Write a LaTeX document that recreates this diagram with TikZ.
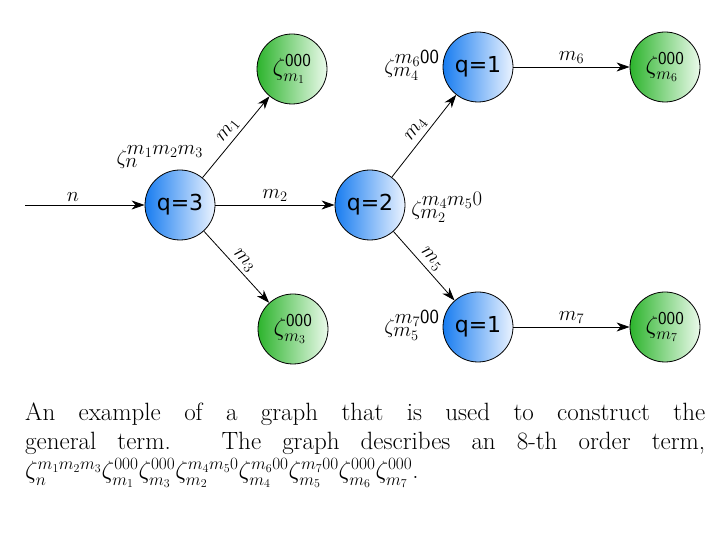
\documentclass[tikz,border=0pt]{standalone}
\usepackage{fontspec}
\newfontfamily\qfont{DejaVu Sans}
\usetikzlibrary{arrows.meta}
\DeclareMathSizes{22}{22}{20}{14}
\definecolor{qblue}{RGB}{25,125,240}
\definecolor{qpale}{RGB}{235,243,255}
\definecolor{zgreen}{RGB}{45,180,45}
\definecolor{zpale}{RGB}{235,250,235}
\begin{document}
\begin{tikzpicture}[x=1pt,y=1pt,
  qnode/.style={circle,draw,line width=0.8pt,minimum size=70pt,inner sep=0pt,left color=qblue,right color=qpale,font=\qfont\fontsize{22}{25}\selectfont},
  znode/.style={circle,draw,line width=0.8pt,minimum size=70pt,inner sep=0pt,left color=zgreen,right color=zpale,font=\fontsize{26}{30}\selectfont},
  edge/.style={-{Stealth[length=13pt,width=9pt,inset=4pt]},line width=0.8pt},
  lbl/.style={font=\fontsize{21}{24}\selectfont},
  zlbl/.style={font=\fontsize{22}{26}\selectfont,inner sep=0pt}]
\useasboundingbox (0,0) rectangle (720,540);
\node[qnode] (q3) at (180,335) {q=3};
\node[qnode] (q2) at (370,335) {q=2};
\node[qnode] (q1a) at (478,473) {q=1};
\node[qnode] (q1b) at (478,213) {q=1};
\node[znode] (m1) at (292,471) {$\zeta_{m_1}^{\mathsf{000}}$};
\node[znode] (m3) at (293,211) {$\zeta_{m_3}^{\mathsf{000}}$};
\node[znode] (m6) at (665,473) {$\zeta_{m_6}^{\mathsf{000}}$};
\node[znode] (m7) at (665,213) {$\zeta_{m_7}^{\mathsf{000}}$};
\coordinate (nin) at (25,335);
\draw[edge] (nin) -- (q3) node[lbl,pos=0.4,above]{$n$};
\draw[edge] (q3) -- (m1) node[lbl,midway,above,sloped]{$m_1$};
\draw[edge] (q3) -- (q2) node[lbl,midway,above]{$m_2$};
\draw[edge] (q3) -- (m3) node[lbl,midway,above,sloped]{$m_3$};
\draw[edge] (q2) -- (q1a) node[lbl,midway,above,sloped]{$m_4$};
\draw[edge] (q2) -- (q1b) node[lbl,midway,above,sloped]{$m_5$};
\draw[edge] (q1a) -- (m6) node[lbl,midway,above]{$m_6$};
\draw[edge] (q1b) -- (m7) node[lbl,midway,above]{$m_7$};
\node[zlbl] (z3) at (160,383) {$\zeta_n^{m_1m_2m_3}$};
\node[zlbl] (z2) at (447,333) {$\zeta_{m_2}^{m_4m_5 0}$};
\node[zlbl] (z4) at (412,475) {$\zeta_{m_4}^{m_6\mathsf{00}}$};
\node[zlbl] (z5) at (412,215) {$\zeta_{m_5}^{m_7\mathsf{00}}$};
\node[anchor=north west,inner sep=0pt,text width=680pt,align=justify,font=\fontsize{25}{29}\selectfont] (cap) at (25,137)
  {An example of a graph that is used to construct the\linebreak
   general term. The graph describes an 8-th order term,\linebreak
   $\zeta_n^{m_1m_2m_3}\zeta_{m_1}^{000}\zeta_{m_3}^{000}\zeta_{m_2}^{m_4m_50}\zeta_{m_4}^{m_600}\zeta_{m_5}^{m_700}\zeta_{m_6}^{000}\zeta_{m_7}^{000}$.};
\end{tikzpicture}
\end{document}
